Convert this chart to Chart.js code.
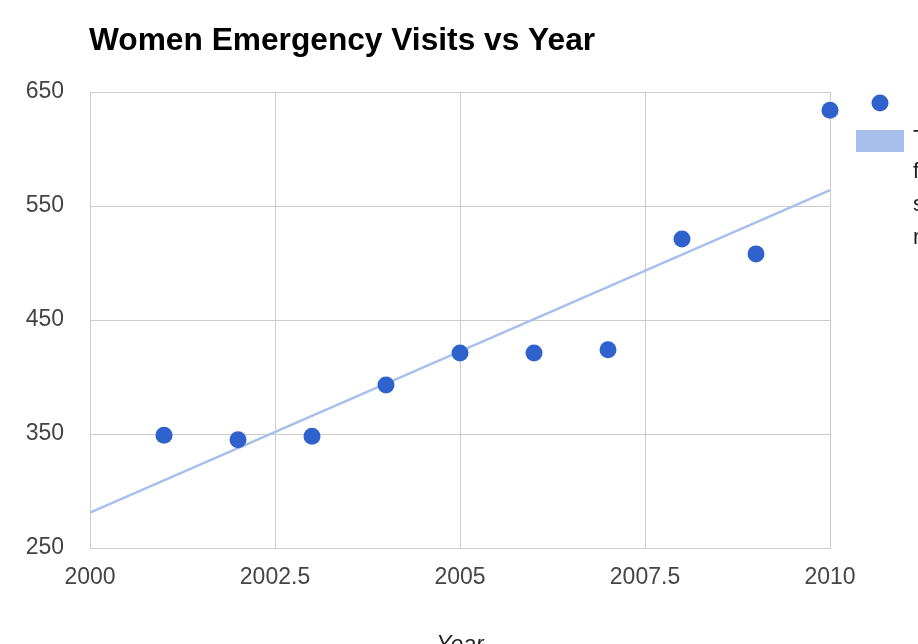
<!DOCTYPE html>
<html>
<head>
<meta charset="utf-8">
<script src="https://cdn.jsdelivr.net/npm/chart.js@4/dist/chart.umd.min.js"></script>
<style>
  html, body { margin: 0; padding: 0; background: #fff; overflow: hidden; }
  #wrap { width: 918px; height: 644px; position: relative; }
</style>
</head>
<body>
<div id="wrap"><canvas id="c" width="918" height="644"></canvas></div>
<script>
const chartTitle = "Women Emergency Visits vs Year";
const xAxisTitle = "Year";
const years = [2001, 2002, 2003, 2004, 2005, 2006, 2007, 2008, 2009, 2010];
const visits = [349, 345, 348, 393, 421, 421, 424, 521, 508, 634];
const trendYears = [2000, 2010];
const trendValues = [281, 564];
const xTicks = [2000, 2002.5, 2005, 2007.5, 2010];
const yTicks = [250, 350, 450, 550, 650];
const legendLines = ["Trendline", "for", "series", "r\u00b2"];

const pointColor = '#2f62cc';
const trendColor = '#a9c0ec';

const fontFamily = '"Liberation Sans", Arial, sans-serif';

const overlay = {
  id: 'overlay',
  afterDraw(chart) {
    const ctx = chart.ctx;
    const area = chart.chartArea;
    ctx.save();
    // title
    ctx.fillStyle = '#000';
    ctx.font = 'bold 31.7px ' + fontFamily;
    ctx.textAlign = 'left';
    ctx.textBaseline = 'alphabetic';
    ctx.fillText(chartTitle, 89, 50);
    // x axis title
    ctx.fillStyle = '#222';
    ctx.font = 'italic 23px ' + fontFamily;
    ctx.textAlign = 'center';
    ctx.fillText(xAxisTitle, (area.left + area.right) / 2, 652);
    // legend
    ctx.fillStyle = pointColor;
    ctx.beginPath();
    ctx.arc(880, 103, 8.5, 0, Math.PI * 2);
    ctx.fill();
    ctx.fillStyle = trendColor;
    ctx.fillRect(856, 130, 48, 22);
    ctx.fillStyle = '#222';
    ctx.font = '22px ' + fontFamily;
    ctx.textAlign = 'left';
    legendLines.forEach((t, i) => ctx.fillText(t, 913, 145 + i * 33));
    ctx.restore();
  }
};

new Chart(document.getElementById('c'), {
  type: 'scatter',
  data: {
    datasets: [
      {
        label: 'Visits',
        data: years.map((y, i) => ({ x: y, y: visits[i] })),
        backgroundColor: pointColor,
        borderWidth: 0,
        pointRadius: 8.5,
        pointHoverRadius: 8.5,
        order: 0,
        clip: false
      },
      {
        type: 'line',
        label: 'Trendline',
        data: trendYears.map((y, i) => ({ x: y, y: trendValues[i] })),
        borderColor: trendColor,
        borderWidth: 2.5,
        pointRadius: 0,
        fill: false,
        order: 1
      }
    ]
  },
  options: {
    responsive: false,
    animation: false,
    layout: { padding: { left: 0, right: 88, top: 92, bottom: 0 } },
    plugins: {
      legend: { display: false },
      title: { display: false },
      tooltip: { enabled: false }
    },
    scales: {
      x: {
        type: 'linear',
        min: 2000,
        max: 2010,
        afterBuildTicks: (scale) => { scale.ticks = xTicks.map(v => ({ value: v })); },
        afterFit: (scale) => { scale.height = 96; },
        ticks: {
          padding: 16,
          color: '#444',
          font: { family: fontFamily, size: 23 },
          callback: (v) => String(v)
        },
        grid: { color: '#cccccc', drawTicks: false, lineWidth: 1 },
        border: { color: '#cccccc' }
      },
      y: {
        type: 'linear',
        min: 250,
        max: 650,
        afterBuildTicks: (scale) => { scale.ticks = yTicks.map(v => ({ value: v })); },
        afterFit: (scale) => { scale.width = 90; },
        ticks: {
          padding: 26,
          color: '#444',
          font: { family: fontFamily, size: 23 },
          callback: (v) => String(v)
        },
        grid: { color: '#cccccc', drawTicks: false, lineWidth: 1 },
        border: { color: '#cccccc' }
      }
    }
  },
  plugins: [overlay]
});
</script>
</body>
</html>
